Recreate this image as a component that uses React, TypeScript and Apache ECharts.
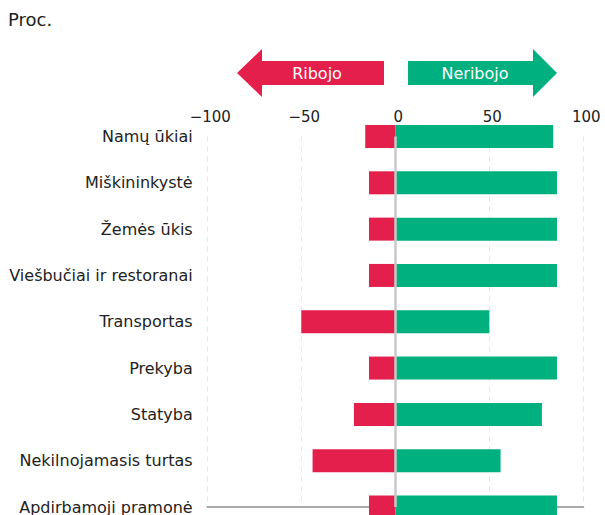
import React, { useEffect, useRef } from "react";
import * as echarts from "echarts";

const categories = [
  "Namų ūkiai",
  "Miškininkystė",
  "Žemės ūkis",
  "Viešbučiai ir restoranai",
  "Transportas",
  "Prekyba",
  "Statyba",
  "Nekilnojamasis turtas",
  "Apdirbamoji pramonė",
];
const limited = [-16, -14, -14, -14, -50, -14, -22, -44, -14];
const unlimited = [84, 86, 86, 86, 50, 86, 78, 56, 86];
const xTicks = { min: -100, max: 100, interval: 50 };

const RED = "#E41F4B";
const GREEN = "#00B07E";
const FONT = "DejaVu Sans";

export default function App() {
  const ref = useRef<HTMLDivElement>(null);
  useEffect(() => {
    if (!ref.current) return;
    const chart = echarts.init(ref.current, null, { renderer: "svg" });
    chart.setOption({
      animation: false,
      backgroundColor: "#ffffff",
      textStyle: { fontFamily: FONT },
      title: {
        text: "Proc.",
        left: 8,
        top: 10,
        padding: 0,
        textStyle: { fontFamily: FONT, fontSize: 18, fontWeight: "normal", color: "#222" },
      },
      grid: { left: 207.3, right: 21.7, top: 136.5, bottom: 6.7 },
      xAxis: [
        {
          type: "value",
          position: "top",
          min: xTicks.min,
          max: xTicks.max,
          interval: xTicks.interval,
          axisLine: { show: false },
          axisTick: { show: false },
          splitLine: { show: true, lineStyle: { color: "#e6e6e6", type: [5, 5], width: 1 } },
          axisLabel: {
            fontFamily: FONT,
            fontSize: 15,
            color: "#222",
            margin: 12,
            padding: [0, 0, 0, 6],
            formatter: (v: number) => String(v).replace("-", "\u2212"),
          },
        },
        {
          type: "value",
          position: "bottom",
          min: xTicks.min,
          max: xTicks.max,
          interval: xTicks.interval,
          axisLine: { show: true, onZero: false, lineStyle: { color: "#aaaaaa", width: 2 } },
          axisTick: { show: false },
          axisLabel: { show: false },
          splitLine: { show: false },
        },
      ],
      yAxis: {
        type: "category",
        data: categories,
        inverse: true,
        boundaryGap: false,
        axisLine: { show: false },
        axisTick: { show: false },
        splitLine: { show: false },
        axisLabel: { fontFamily: FONT, fontSize: 16, color: "#222", margin: 14.6 },
      },
      series: [
        {
          name: "Ribojo",
          type: "bar",
          stack: "total",
          xAxisIndex: 0,
          data: limited,
          barWidth: 23,
          clip: true,
          itemStyle: { color: RED },
        },
        {
          name: "Neribojo",
          type: "bar",
          stack: "total",
          xAxisIndex: 0,
          data: unlimited,
          barWidth: 23,
          clip: true,
          itemStyle: { color: GREEN },
          markLine: {
            silent: true,
            symbol: "none",
            label: { show: false },
            lineStyle: { color: "#c8c8c8", width: 2.5, type: "solid" },
            data: [{ xAxis: 0 }],
            z: 10,
          },
        },
      ],
      graphic: [
        {
          type: "polygon",
          shape: {
            points: [
              [237, 73],
              [262, 49],
              [262, 61],
              [384, 61],
              [384, 85],
              [262, 85],
              [262, 97],
            ],
          },
          style: { fill: RED },
        },
        {
          type: "polygon",
          shape: {
            points: [
              [408, 61],
              [533, 61],
              [533, 49],
              [557, 73],
              [533, 97],
              [533, 85],
              [408, 85],
            ],
          },
          style: { fill: GREEN },
        },
        {
          type: "text",
          x: 317,
          y: 73,
          style: {
            text: "Ribojo",
            fill: "#fff",
            font: `16px "${FONT}"`,
            textAlign: "center",
            textVerticalAlign: "middle",
          },
        },
        {
          type: "text",
          x: 475,
          y: 73,
          style: {
            text: "Neribojo",
            fill: "#fff",
            font: `16px "${FONT}"`,
            textAlign: "center",
            textVerticalAlign: "middle",
          },
        },
      ],
    });
    return () => chart.dispose();
  }, []);
  return (
    <div
      ref={ref}
      style={{ position: "absolute", left: 0, top: 0, width: 605, height: 515 }}
    />
  );
}
